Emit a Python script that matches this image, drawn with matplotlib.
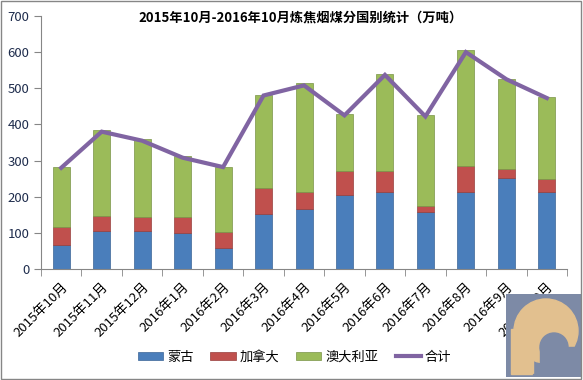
import numpy as np
import matplotlib
matplotlib.use('Agg')
from matplotlib import pyplot as plt
from matplotlib.patches import Rectangle, Circle

plt.rcParams['font.family'] = ['Noto Sans CJK SC', 'DejaVu Sans']

months = ['2015年10月', '2015年11月', '2015年12月', '2016年1月', '2016年2月',
          '2016年3月', '2016年4月', '2016年5月', '2016年6月', '2016年7月',
          '2016年8月', '2016年9月', '2016年10月']
mongolia = [66, 105, 105, 99, 58, 153, 165, 206, 214, 157, 214, 253, 214]
canada = [51, 43, 38, 44, 44, 71, 48, 66, 56, 18, 72, 24, 35]
australia = [166, 236, 216, 169, 181, 257, 301, 156, 270, 251, 319, 250, 228]
total = [280, 380, 355, 308, 282, 480, 508, 425, 537, 422, 600, 525, 473]
title = '2015年10月-2016年10月炼焦烟煤分国别统计（万吨）'

c_blue = '#4A7EBB'
c_red = '#C0504D'
c_green = '#9BBB59'
c_purple = '#8064A2'

fig = plt.figure(figsize=(5.83, 3.80), dpi=100)
ax = fig.add_axes([0.0703, 0.292, 0.9023, 0.666])

x = np.arange(len(months))
w = 0.42
b1 = ax.bar(x, mongolia, w, color=c_blue, edgecolor='#3A6496', linewidth=0.5, label='蒙古')
b2 = ax.bar(x, canada, w, bottom=mongolia, color=c_red, edgecolor='#963E3B', linewidth=0.5, label='加拿大')
bot2 = np.array(mongolia) + np.array(canada)
b3 = ax.bar(x, australia, w, bottom=bot2, color=c_green, edgecolor='#7A9447', linewidth=0.5, label='澳大利亚')
ln, = ax.plot(x, total, color=c_purple, linewidth=3, label='合计', solid_joinstyle='miter')

ax.set_xlim(-0.5, len(months) - 0.5)
ax.set_ylim(0, 700)
ax.set_yticks(range(0, 701, 100))
ax.tick_params(axis='y', labelsize=9.5, labelcolor='#1F2D4D', color='#868686', length=5, direction='out')

# category labels at centres, tick marks at boundaries
ax.set_xticks(x)
ax.set_xticklabels(months, rotation=45, ha='right', rotation_mode='anchor', fontsize=9.5)
ax.tick_params(axis='x', length=0, pad=8)
ax.set_xticks(np.arange(-0.5, len(months)), minor=True)
ax.tick_params(axis='x', which='minor', length=5, color='#868686', direction='out')

for s in ['top', 'right']:
    ax.spines[s].set_visible(False)
for s in ['left', 'bottom']:
    ax.spines[s].set_color('#868686')

fig.text(0.515, 0.953, title, ha='center', va='center', fontsize=9.5, fontweight='bold')

fig.legend([b1, b2, b3, ln], ['蒙古', '加拿大', '澳大利亚', '合计'],
           loc='center', bbox_to_anchor=(0.505, 0.06), ncol=4, frameon=False,
           fontsize=9.5, handlelength=1.9, handleheight=0.55, columnspacing=1.3,
           handletextpad=0.3)

# outer border
fig.patches.append(Rectangle((0.002, 0.003), 0.995, 0.994, transform=fig.transFigure,
                             fill=False, edgecolor='#868686', linewidth=1))

# logo in the corner
bg = '#7D8AA6'
tan = '#E2C08F'
lax = fig.add_axes([506 / 583, 1 - 377 / 380, 76 / 583, 83 / 380])
lax.set_xlim(0, 76)
lax.set_ylim(0, 83)
lax.axis('off')
lax.add_patch(Rectangle((0, 0), 76, 83, color=bg))
lax.add_patch(Circle((40, 46), 32, color=tan))
lax.add_patch(Rectangle((5, 3), 22, 45, color=tan))
lax.add_patch(Circle((48, 30), 14, color=bg))
lax.add_patch(Rectangle((34, 0), 42, 30, color=bg))
lax.add_patch(Rectangle((27, 0), 8, 3, color=bg))

fig.savefig('out.png', dpi=100)
